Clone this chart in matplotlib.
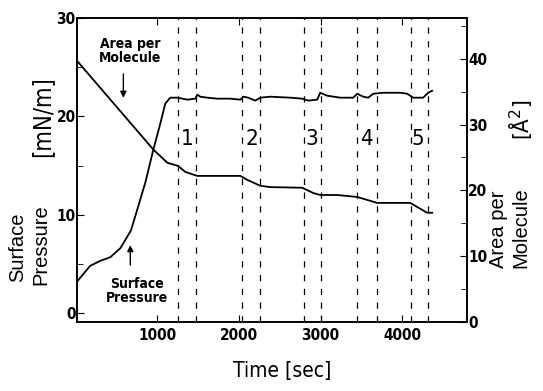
import matplotlib
matplotlib.use('Agg')
import matplotlib.pyplot as plt
from matplotlib.ticker import MultipleLocator

# surface pressure (left axis, mN/m)
sp_time = [20, 180, 300, 430, 550, 680, 760, 860, 950, 1040, 1100, 1160, 1250,
           1369, 1467, 1491, 1528, 1614, 1736, 1895, 2017, 2054, 2115, 2200,
           2262, 2384, 2628, 2775, 2848, 2958, 2995, 3081, 3240, 3399, 3447,
           3521, 3582, 3643, 3765, 3973, 4059, 4132, 4254, 4315, 4364]
sp_val = [3.2, 4.8, 5.3, 5.7, 6.6, 8.4, 10.6, 13.4, 16.5, 19.3, 21.3, 21.9, 21.9,
          21.7, 21.8, 22.2, 22.0, 21.9, 21.8, 21.8, 21.7, 22.0, 21.9, 21.6,
          21.9, 22.0, 21.9, 21.8, 21.6, 21.7, 22.4, 22.1, 21.9, 21.9, 22.3,
          22.0, 21.9, 22.3, 22.4, 22.4, 22.3, 21.9, 21.9, 22.4, 22.6]

# area per molecule (right axis, A^2)
ar_time = [20, 954, 1125, 1259, 1345, 1491, 2017, 2103, 2262, 2384, 2775, 2910,
           2995, 3203, 3447, 3692, 4095, 4303, 4364]
ar_val = [39.7, 26.2, 24.2, 23.7, 22.8, 22.2, 22.2, 21.6, 20.7, 20.5, 20.4, 19.6,
          19.3, 19.3, 19.0, 18.1, 18.1, 16.6, 16.6]

# dashed markers bracketing each step
step_lines = [1260, 1480, 2040, 2260, 2800, 3000, 3450, 3690, 4100, 4310]
step_labels = ['1', '2', '3', '4', '5']
step_label_x = [1369, 2164, 2897, 3557, 4193]

cond = dict(family='DejaVu Sans', stretch='condensed')
plain = ['Liberation Sans', 'DejaVu Sans']

fig = plt.figure(figsize=(5.43, 3.91), dpi=100)
ax = fig.add_axes([0.1418, 0.1765, 0.7182, 0.7775])
ax2 = ax.twinx()

ax.plot(sp_time, sp_val, color='black', lw=1.3)
ax2.plot(ar_time, ar_val, color='black', lw=1.3)
for t in step_lines:
    ax.axvline(t, color='black', lw=0.9, ls=(0, (5, 6)))

ax.set_xlim(20, 4790)
ax.set_ylim(-0.9, 30)
ax2.set_ylim(0, 46.2)

ax.yaxis.set_major_locator(MultipleLocator(10))
ax.yaxis.set_minor_locator(MultipleLocator(5))
ax2.yaxis.set_major_locator(MultipleLocator(10))
ax2.yaxis.set_minor_locator(MultipleLocator(5))
ax.set_xticks([1000, 2000, 3000, 4000])

ax.tick_params(axis='x', direction='in', top=True, length=5, pad=4)
ax.tick_params(axis='y', direction='in', length=5, pad=1)
ax.tick_params(which='minor', direction='in', length=4)
ax2.tick_params(axis='y', direction='in', length=5, pad=1)
ax2.tick_params(which='minor', direction='in', length=4)
for a in (ax, ax2):
    for lab in a.get_xticklabels() + a.get_yticklabels():
        lab.set_family('DejaVu Sans')
        lab.set_stretch('condensed')
        lab.set_fontsize(11)
        lab.set_fontweight('bold')
    for s in a.spines.values():
        s.set_linewidth(1.2)

for lab, t in zip(step_labels, step_label_x):
    ax.text(t, 17.7, lab, ha='center', va='center', fontsize=16, **cond)

ax.text(672, 26.6, 'Area per\nMolecule', ha='center', va='center', fontsize=10,
        fontweight='bold', linespacing=1.0, **cond)
ax.annotate('', xy=(587, 21.6), xytext=(587, 24.6),
            arrowprops=dict(arrowstyle='-|>', color='black', lw=1, mutation_scale=9))
ax.text(758, 2.3, 'Surface\nPressure', ha='center', va='center', fontsize=10,
        fontweight='bold', linespacing=1.0, **cond)
ax.annotate('', xy=(672, 7.2), xytext=(672, 4.6),
            arrowprops=dict(arrowstyle='-|>', color='black', lw=1, mutation_scale=9))

# axis titles placed in figure pixels
W, H = 543.0, 391.0
fig.text(18 / W, 1 - 282 / H, 'Surface', rotation=90, ha='center', va='bottom',
         fontsize=14.5, family=plain)
fig.text(41 / W, 1 - 285 / H, 'Pressure', rotation=90, ha='center', va='bottom',
         fontsize=14.5, family=plain)
fig.text(42 / W, 1 - 157 / H, '[mN/m]', rotation=90, ha='center', va='bottom',
         fontsize=17, **cond)
fig.text(499 / W, 1 - 268 / H, 'Area per', rotation=90, ha='center', va='bottom',
         fontsize=14.5, family=plain)
fig.text(521 / W, 1 - 268 / H, 'Molecule', rotation=90, ha='center', va='bottom',
         fontsize=14.5, family=plain)
fig.text(521 / W, 1 - 140 / H, '[Å$^2$]', rotation=90, ha='center', va='bottom',
         fontsize=16, **cond)
fig.text(282 / W, 1 - 371 / H, 'Time [sec]', ha='center', va='center',
         fontsize=15, **cond)

fig.savefig('out.png', dpi=100)
